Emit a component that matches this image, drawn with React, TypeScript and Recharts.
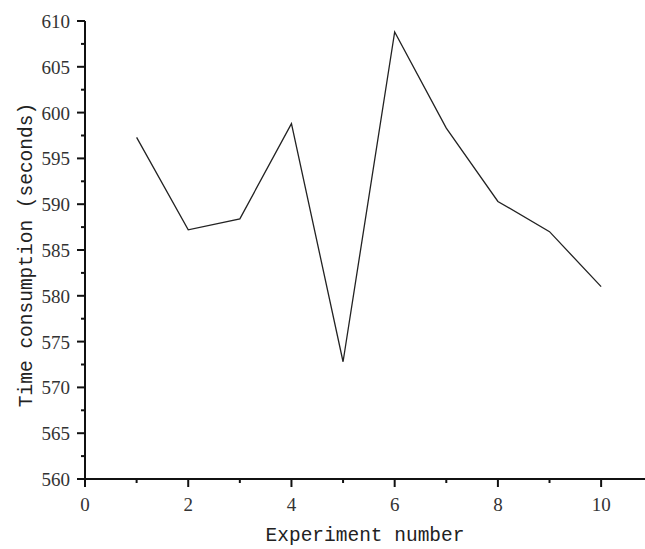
import { LineChart, Line, XAxis, YAxis, Label } from 'recharts';

const experiments = [1, 2, 3, 4, 5, 6, 7, 8, 9, 10];
const timeSeconds = [597.3, 587.2, 588.4, 598.8, 572.8, 608.8, 598.3, 590.3, 587.0, 581.0];
const xTicks = [0, 1, 2, 3, 4, 5, 6, 7, 8, 9, 10];
const yTicks = [560, 562.5, 565, 567.5, 570, 572.5, 575, 577.5, 580, 582.5, 585, 587.5, 590, 592.5, 595, 597.5, 600, 602.5, 605, 607.5, 610];

const data = experiments.map((n, i) => ({ n, t: timeSeconds[i] }));

const tickFont = '"Liberation Serif", "Times New Roman", serif';
const titleFont = '"Liberation Mono", "DejaVu Sans Mono", monospace';

function XTick({ x, y, payload }: any) {
  const major = payload.value % 2 === 0;
  return (
    <g>
      <line x1={x} y1={y} x2={x} y2={y + (major ? 8 : 4)} stroke="#111" strokeWidth={2} />
      {major && (
        <text x={x} y={y + 32} textAnchor="middle" fontFamily={tickFont} fontSize={19} fill="#333">
          {payload.value}
        </text>
      )}
    </g>
  );
}

function YTick({ x, y, payload }: any) {
  const major = payload.value % 5 === 0;
  return (
    <g>
      <line x1={x} y1={y} x2={x - (major ? 8 : 4)} y2={y} stroke="#111" strokeWidth={2} />
      {major && (
        <text x={x - 15} y={y + 7} textAnchor="end" fontFamily={tickFont} fontSize={19} fill="#333">
          {payload.value}
        </text>
      )}
    </g>
  );
}

export default function App() {
  return (
    <div style={{ position: 'absolute', left: 0, top: 0, background: '#fff' }}>
      <LineChart width={645} height={549} data={data} margin={{ top: 21, right: 0, bottom: 0, left: 0 }}>
        <XAxis
          dataKey="n"
          type="number"
          domain={[0, 10.85]}
          ticks={xTicks}
          interval={0}
          tick={<XTick />}
          tickLine={false}
          tickSize={0}
          tickMargin={0}
          height={70}
          axisLine={{ stroke: '#111', strokeWidth: 2 }}
        >
          <Label
            value="Experiment number"
            position="insideBottom"
            offset={8}
            style={{ fontFamily: titleFont, fontSize: 19.5, fill: '#222' }}
          />
        </XAxis>
        <YAxis
          type="number"
          domain={[560, 610]}
          ticks={yTicks}
          interval={0}
          tick={<YTick />}
          tickLine={false}
          tickSize={0}
          tickMargin={0}
          width={85}
          axisLine={{ stroke: '#111', strokeWidth: 2 }}
        >
          <Label
            content={() => (
              <text
                x={27}
                y={255}
                transform="rotate(-90, 27, 255)"
                textAnchor="middle"
                dominantBaseline="central"
                fontFamily={titleFont}
                fontSize={19.5}
                fill="#222"
              >
                Time consumption (seconds)
              </text>
            )}
          />
        </YAxis>
        <Line
          type="linear"
          dataKey="t"
          stroke="#222"
          strokeWidth={1.3}
          dot={false}
          isAnimationActive={false}
        />
      </LineChart>
    </div>
  );
}
